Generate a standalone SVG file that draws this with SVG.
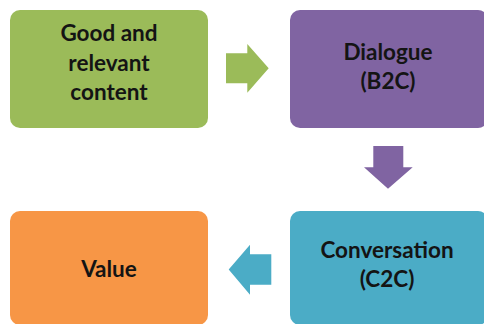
<svg xmlns="http://www.w3.org/2000/svg" width="484" height="324" viewBox="0 0 484 324">
<style>
.box{stroke:none}
.t{font-family:"Lato","Liberation Sans",sans-serif;font-weight:bold;font-size:22.5px;fill:#141414;text-anchor:middle}
</style>
<rect width="484" height="324" fill="#ffffff"/>
<g id="connectors">
<polygon id="arrow-right" points="226,53.3 247.3,53.3 247.3,44 268.7,68.3 247.3,92.7 247.3,83.3 226,83.3" fill="#9BBB59"/>
<polygon id="arrow-down" points="373.3,146 403.3,146 403.3,167.3 412.7,167.3 388,188.7 364,167.3 373.3,167.3" fill="#8064A2"/>
<polygon id="arrow-left" points="271.3,254.3 250,254.3 250,244.7 228.7,269.5 250,294.7 250,284.7 271.3,284.7" fill="#4BACC6"/>
</g>
<g id="node-content">
<rect class="box" x="10" y="10" width="198" height="118" rx="10" fill="#9BBB59"/>
<text class="t" x="109" y="41.3">Good and</text>
<text class="t" x="109" y="70.7">relevant</text>
<text class="t" x="109" y="100">content</text>
</g>
<g id="node-dialogue">
<rect class="box" x="290" y="10" width="198" height="118" rx="10" fill="#8064A2"/>
<text class="t" x="388" y="60">Dialogue</text>
<text class="t" x="388" y="89">(B2C)</text>
</g>
<g id="node-conversation">
<rect class="box" x="290" y="211" width="198" height="114" rx="10" fill="#4BACC6"/>
<text class="t" x="387" y="257.7">Conversation</text>
<text class="t" x="387" y="287.3">(C2C)</text>
</g>
<g id="node-value">
<rect class="box" x="10" y="211" width="198" height="114" rx="10" fill="#F79646"/>
<text class="t" x="109" y="276.7">Value</text>
</g>
</svg>
